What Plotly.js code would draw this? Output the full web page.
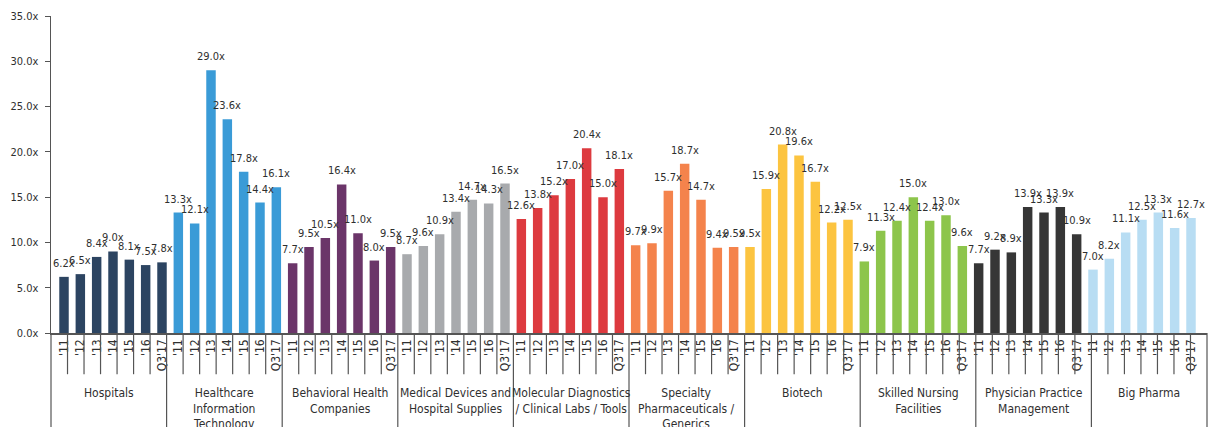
<!DOCTYPE html>
<html>
<head>
<meta charset="utf-8">
<script src="https://cdn.plot.ly/plotly-3.0.1.min.js"></script>
<style>html,body{margin:0;padding:0;background:#fff;}#chart{width:1219px;height:427px;}</style>
</head>
<body>
<div id="chart"></div>
<script>
const groups = [
  "Hospitals",
  "Healthcare<br>Information<br>Technology",
  "Behavioral Health<br>Companies",
  "Medical Devices and<br>Hospital Supplies",
  "Molecular Diagnostics<br>/ Clinical Labs / Tools",
  "Specialty<br>Pharmaceuticals /<br>Generics",
  "Biotech",
  "Skilled Nursing<br>Facilities",
  "Physician Practice<br>Management",
  "Big Pharma"
];
const periods = ["'11", "'12", "'13", "'14", "'15", "'16", "Q3'17"];

const hospitals      = [6.2, 6.5, 8.4, 9.0, 8.1, 7.5, 7.8];
const healthcareIT   = [13.3, 12.1, 29.0, 23.6, 17.8, 14.4, 16.1];
const behavioral     = [7.7, 9.5, 10.5, 16.4, 11.0, 8.0, 9.5];
const medDevices     = [8.7, 9.6, 10.9, 13.4, 14.7, 14.3, 16.5];
const molecularDx    = [12.6, 13.8, 15.2, 17.0, 20.4, 15.0, 18.1];
const specialtyPharma= [9.7, 9.9, 15.7, 18.7, 14.7, 9.4, 9.5];
const biotech        = [9.5, 15.9, 20.8, 19.6, 16.7, 12.2, 12.5];
const skilledNursing = [7.9, 11.3, 12.4, 15.0, 12.4, 13.0, 9.6];
const physicianPM    = [7.7, 9.2, 8.9, 13.9, 13.3, 13.9, 10.9];
const bigPharma      = [7.0, 8.2, 11.1, 12.5, 13.3, 11.6, 12.7];

const seriesValues = [hospitals, healthcareIT, behavioral, medDevices, molecularDx,
                      specialtyPharma, biotech, skilledNursing, physicianPM, bigPharma];
const groupColors = ["#2c4461", "#3a9bd7", "#6b3569", "#a8aaad", "#dd3a3f",
                     "#f4834c", "#fcc440", "#8dc54b", "#363636", "#b8ddf3"];

const FONT = "'DejaVu Sans Condensed', 'Liberation Sans Narrow', 'DejaVu Sans', sans-serif";
const TXT = "#2f2f2f";

const xKeys = [], yVals = [], colors = [], tickText = [];
seriesValues.forEach((vals, g) => {
  vals.forEach((v, i) => {
    xKeys.push(g + "|" + periods[i]);
    yVals.push(v);
    colors.push(groupColors[g]);
    tickText.push(periods[i]);
  });
});
const N = xKeys.length;

const trace = {
  type: "bar",
  x: xKeys,
  y: yVals,
  marker: {color: colors},
  hoverinfo: "y"
};

const annotations = [];
xKeys.forEach((k, i) => {
  annotations.push({
    x: k, y: yVals[i], xref: "x", yref: "y",
    text: yVals[i].toFixed(1) + "x",
    showarrow: false, xanchor: "center", yanchor: "bottom", yshift: 5,
    font: {family: FONT, size: 11, color: TXT}
  });
});
const per = periods.length;
groups.forEach((name, g) => {
  annotations.push({
    x: (g * per + per / 2) / N, xref: "paper", xanchor: "center",
    y: -0.16, yref: "paper", yanchor: "top",
    text: name, showarrow: false, align: "center",
    font: {family: FONT, size: 12, color: TXT}
  });
});

const shapes = [];
for (let i = 0; i <= N; i++) {
  const isGroup = (i % per === 0);
  shapes.push({
    type: "line", xref: "paper", yref: "paper",
    x0: i / N, x1: i / N, y0: 0, y1: isGroup ? -0.35 : -0.13,
    line: {color: "#555555", width: 1.2}
  });
}

const layout = {
  width: 1219, height: 427,
  margin: {l: 51, r: 12, t: 16, b: 94},
  paper_bgcolor: "#ffffff", plot_bgcolor: "#ffffff",
  showlegend: false,
  bargap: 0.42,
  xaxis: {
    type: "category",
    tickvals: xKeys, ticktext: tickText,
    tickangle: -90,
    showgrid: false, zeroline: false,
    showline: true, linecolor: "#555555", linewidth: 1.5,
    ticks: "",
    tickfont: {family: FONT, size: 12, color: TXT}
  },
  yaxis: {
    range: [0, 35], dtick: 5,
    tickformat: ".1f", ticksuffix: "x",
    showgrid: false, zeroline: false,
    showline: true, linecolor: "#555555", linewidth: 1.5,
    ticks: "outside", ticklen: 5, tickcolor: "#555555",
    ticklabelstandoff: 4,
    tickfont: {family: FONT, size: 11, color: TXT}
  },
  annotations: annotations,
  shapes: shapes
};

Plotly.newPlot("chart", [trace], layout, {displayModeBar: false, staticPlot: true});
</script>
</body>
</html>
